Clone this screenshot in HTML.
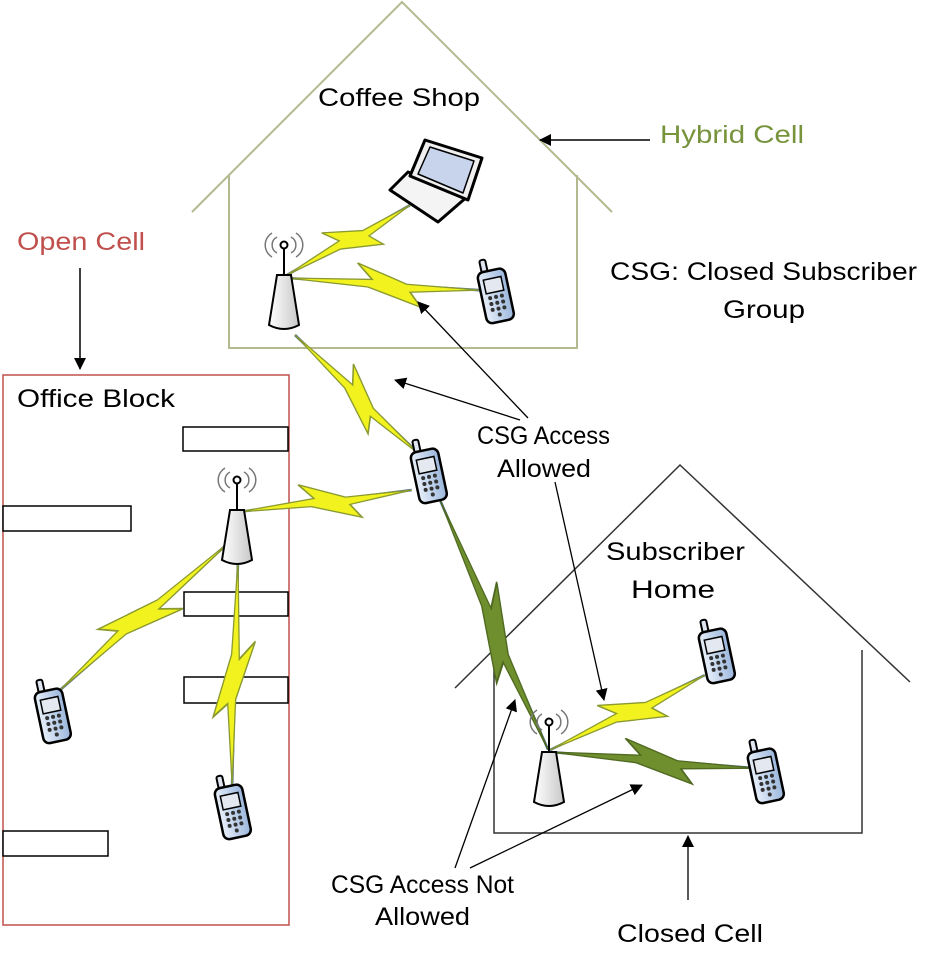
<!DOCTYPE html>
<html><head><meta charset="utf-8"><style>
html,body{margin:0;padding:0;background:#fff;}
svg{display:block;font-family:"Liberation Sans",Calibri,sans-serif;}
</style></head><body>
<svg width="927" height="953" viewBox="0 0 927 953" xmlns="http://www.w3.org/2000/svg">
<defs>
<marker id="ah" markerWidth="12" markerHeight="12" refX="11" refY="6" orient="auto" markerUnits="userSpaceOnUse" viewBox="0 0 12 12">
<path d="M0,0 L12,6 L0,12 z" fill="#000"/></marker>
<linearGradient id="pg" x1="0" x2="1"><stop offset="0" stop-color="#e8f0fa"/><stop offset="1" stop-color="#9ab6dc"/></linearGradient>
<linearGradient id="ag" x1="0" x2="1"><stop offset="0" stop-color="#fff"/><stop offset="1" stop-color="#c8c8c8"/></linearGradient>
<g id="bolty">
<line x1="0" y1="0" x2="100" y2="0" stroke="#4a6a9a" stroke-width="2"/>
<path d="M0,0 L44,-3 L36,-15 L62,-1 L100,0 L64,5 L70,16 L42,3 Z" fill="#f2f21e" stroke="#8a9a30" stroke-width="1"/>
</g>
<g id="boltg">
<line x1="0" y1="0" x2="100" y2="0" stroke="#4a6a9a" stroke-width="2"/>
<path d="M0,0 L44,-3 L36,-15 L62,-1 L100,0 L64,5 L70,16 L42,3 Z" fill="#6f8f2f" stroke="#4f6a20" stroke-width="1"/>
</g>
<g id="phone" transform="rotate(-12)">
<rect x="-9" y="-34" width="6" height="16" rx="2" fill="#dfe6f0" stroke="#000" stroke-width="2"/>
<rect x="-14" y="-22" width="28" height="52" rx="6" fill="url(#pg)" stroke="#000" stroke-width="2.5"/>
<rect x="-9" y="-14" width="18" height="14" fill="#e4e8f0" stroke="#000" stroke-width="1.5"/>
<g fill="#333"><circle cx="-6" cy="5" r="2"/><circle cx="0" cy="5" r="2"/><circle cx="6" cy="5" r="2"/>
<circle cx="-6" cy="11" r="2"/><circle cx="0" cy="11" r="2"/><circle cx="6" cy="11" r="2"/>
<circle cx="-6" cy="17" r="2"/><circle cx="0" cy="17" r="2"/><circle cx="6" cy="17" r="2"/>
<circle cx="0" cy="23" r="2"/></g>
</g>
<g id="ant">
<g fill="none" stroke="#777" stroke-width="1.5">
<path d="M-7,-38 A9,9 0 0 0 -7,-22"/><path d="M7,-38 A9,9 0 0 1 7,-22"/>
<path d="M-12,-42 A14,14 0 0 0 -12,-18"/><path d="M12,-42 A14,14 0 0 1 12,-18"/>
</g>
<line x1="0" y1="0" x2="0" y2="-27" stroke="#000" stroke-width="2"/>
<circle cx="0" cy="-30" r="3.5" fill="#fff" stroke="#000" stroke-width="2"/>
<path d="M-7,0 L7,0 L15,50 Q0,58 -15,50 Z" fill="url(#ag)" stroke="#000" stroke-width="2"/>
</g>
</defs>

<g stroke="#b5b98f" stroke-width="2" fill="none">
<polyline points="192,212 402,2 612,212"/>
<polyline points="229,175 229,348 577,348 577,175"/>
</g>
<g font-size="25" lengthAdjust="spacingAndGlyphs">
<text x="318" y="106" textLength="162" lengthAdjust="spacingAndGlyphs">Coffee Shop</text>
<text x="660" y="143" textLength="144" lengthAdjust="spacingAndGlyphs" fill="#77933c">Hybrid Cell</text>
<text x="610" y="280" textLength="307" lengthAdjust="spacingAndGlyphs">CSG: Closed Subscriber</text>
<text x="723" y="318" textLength="82" lengthAdjust="spacingAndGlyphs">Group</text>
<text x="17" y="250" textLength="128" lengthAdjust="spacingAndGlyphs" fill="#c0504d">Open Cell</text>
<text x="17" y="407" textLength="158" lengthAdjust="spacingAndGlyphs">Office Block</text>
<text x="606" y="560" textLength="139" lengthAdjust="spacingAndGlyphs">Subscriber</text>
<text x="631" y="598" textLength="84" lengthAdjust="spacingAndGlyphs">Home</text>
<text x="477" y="444" textLength="133" lengthAdjust="spacingAndGlyphs">CSG Access</text>
<text x="497" y="477" textLength="94" lengthAdjust="spacingAndGlyphs">Allowed</text>
<text x="331" y="893" textLength="183" lengthAdjust="spacingAndGlyphs">CSG Access Not</text>
<text x="375" y="925" textLength="95" lengthAdjust="spacingAndGlyphs">Allowed</text>
<text x="617" y="942" textLength="146" lengthAdjust="spacingAndGlyphs">Closed Cell</text>
</g>
<line x1="650" y1="140" x2="540" y2="140" stroke="#000" stroke-width="1.5" marker-end="url(#ah)"/>

<line x1="80" y1="268" x2="80" y2="369" stroke="#000" stroke-width="1.5" marker-end="url(#ah)"/>
<rect x="3" y="375" width="286" height="550" fill="none" stroke="#c0504d" stroke-width="1.5"/>
<g fill="#fff" stroke="#000" stroke-width="1.5">
<rect x="183" y="427" width="105" height="24"/>
<rect x="3" y="506" width="128" height="25"/>
<rect x="184" y="592" width="104" height="24"/>
<rect x="184" y="677" width="104" height="26"/>
<rect x="3" y="831" width="105" height="25"/>
</g>

<g stroke="#333" stroke-width="1.5" fill="none">
<polyline points="455,688 680,465 910,682"/>
<polyline points="494,653 494,833 862,833 862,650"/>
</g>

<use href="#bolty" transform="translate(287,275) rotate(-29.6) scale(1.415,1.3)"/>
<use href="#bolty" transform="translate(287,278) rotate(3.6) scale(1.934,1.3)"/>
<use href="#bolty" transform="translate(295,335) rotate(43.8) scale(1.73,1.3)"/>
<use href="#bolty" transform="translate(238,512) rotate(-7.2) scale(1.75,1.3)"/>
<use href="#bolty" transform="translate(232,540) rotate(138.9) scale(2.28,1.3)"/>
<use href="#bolty" transform="translate(238,560) rotate(91.5) scale(2.25,1.3)"/>
<use href="#boltg" transform="translate(440,500) rotate(66.6) scale(2.72,1.3)"/>
<use href="#bolty" transform="translate(550,750) rotate(-25.8) scale(1.72,1.3)"/>
<use href="#boltg" transform="translate(550,752) rotate(4.5) scale(2.06,1.3)"/>

<!-- laptop -->
<g stroke="#000" stroke-width="3" stroke-linejoin="round">
<path d="M408,172 L468,196 L438,222 L390,190 Z" fill="#f4f4f4"/>
<path d="M425,140 L482,158 L468,200 L410,176 Z" fill="#f0f0f0"/>
<path d="M430,147 L474,161 L463,193 L418,174 Z" fill="#c8d4ec" stroke-width="1.5"/>
</g>

<use href="#ant" transform="translate(284,275)"/>
<use href="#ant" transform="translate(237,510)"/>
<use href="#ant" transform="translate(549,752)"/>

<use href="#phone" transform="translate(495,292)"/>
<use href="#phone" transform="translate(428,472)"/>
<use href="#phone" transform="translate(716,652)"/>
<use href="#phone" transform="translate(765,772)"/>
<use href="#phone" transform="translate(52,712)"/>
<use href="#phone" transform="translate(232,808)"/>

<g stroke="#000" stroke-width="1.3" marker-end="url(#ah)">
<line x1="520" y1="420" x2="395" y2="380"/>
<line x1="528" y1="418" x2="418" y2="302"/>
<line x1="555" y1="482" x2="604" y2="700"/>
<line x1="455" y1="868" x2="515" y2="700"/>
<line x1="470" y1="868" x2="642" y2="785"/>
<line x1="688" y1="900" x2="688" y2="836"/>
</g>
</svg>
</body></html>
